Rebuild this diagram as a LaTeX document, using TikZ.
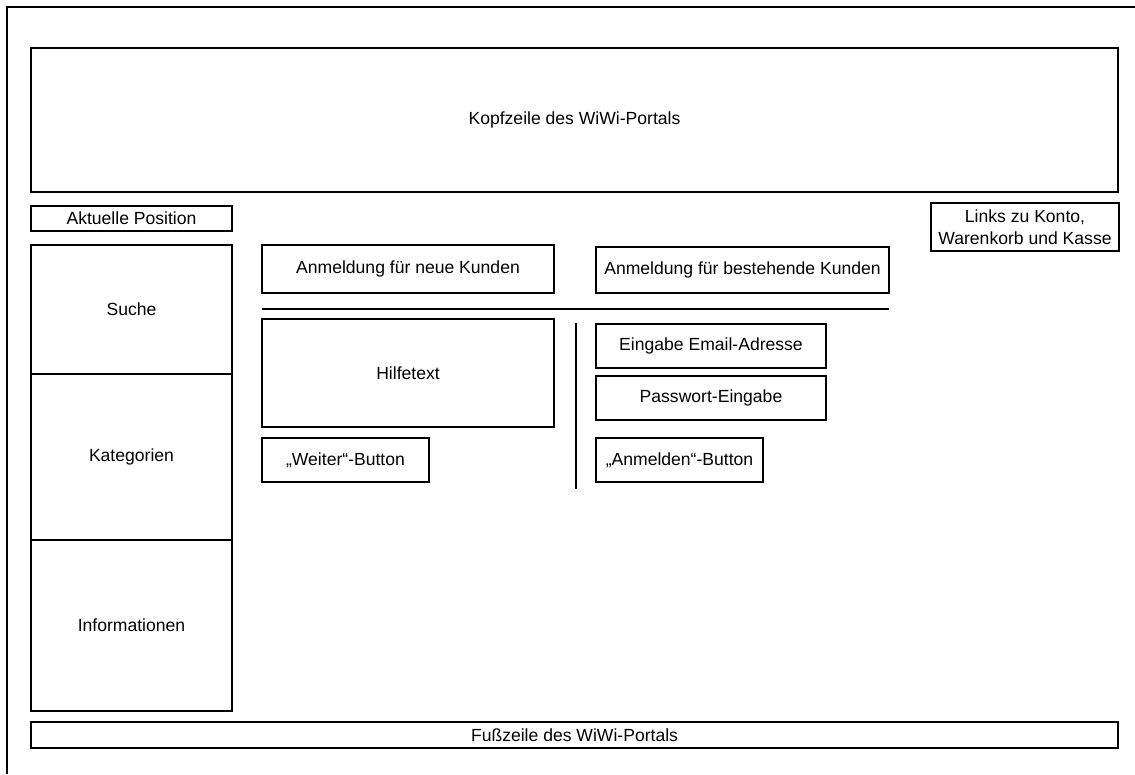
\documentclass[tikz,border=0pt]{standalone}
\usepackage{fontspec}
\setmainfont{Liberation Sans}

\begin{document}
\begin{tikzpicture}[x=0.02cm, y=-0.02cm,
  font=\fontsize{10}{12.5}\selectfont,
  feld/.style={draw, line width=0.6pt},
  rahmen/.style={draw, line width=1.6pt}]
  \useasboundingbox (0,0) rectangle (1135,774);

  %% Rahmen der Seite
  \draw[rahmen] (1135,7) -- (7,7) -- (7,774);

  %% Kopf- und Fusszeile
  \draw[feld] (31,48) rectangle (1118,192)
    node[midway] (kopf) {Kopfzeile des WiWi-Portals};
  \draw[feld] (31,722) rectangle (1118,748)
    node[midway] (fuss) {Fußzeile des WiWi-Portals};

  %% Linke Spalte
  \draw[feld] (31,206) rectangle (232,231)
    node[midway] (position) {Aktuelle Position};
  \draw[feld] (31,245) rectangle (232,374) node[midway] (suche) {Suche};
  \draw[feld] (31,374) rectangle (232,540) node[midway] (kategorien) {Kategorien};
  \draw[feld] (31,540) rectangle (232,711) node[midway] (info) {Informationen};

  %% Rechts oben
  \draw[feld] (931,203) rectangle (1119,251)
    node[midway, align=center] (links) {Links zu Konto,\\Warenkorb und Kasse};

  %% Anmeldung
  \draw[feld] (262,245) rectangle (554,293)
    node[midway] (neu) {Anmeldung für neue Kunden};
  \draw[feld] (596,247) rectangle (889,293)
    node[midway] (bestehend) {Anmeldung für bestehende Kunden};
  \draw[line width=0.6pt] (262,309) -- (889,309);

  %% neue Kunden
  \draw[feld] (262,319) rectangle (554,427) node[midway] (hilfe) {Hilfetext};
  \draw[feld] (262,438) rectangle (429,482) node[midway] (weiter) {„Weiter“-Button};

  %% Trennlinie
  \draw[line width=0.6pt] (576,323) -- (576,489);

  %% bestehende Kunden
  \draw[feld] (596,324) rectangle (826,368)
    node[midway] (email) {Eingabe Email-Adresse};
  \draw[feld] (596,376) rectangle (826,420)
    node[midway] (passwort) {Passwort-Eingabe};
  \draw[feld] (596,438) rectangle (763,482)
    node[midway] (anmelden) {„Anmelden“-Button};

\end{tikzpicture}
\end{document}
